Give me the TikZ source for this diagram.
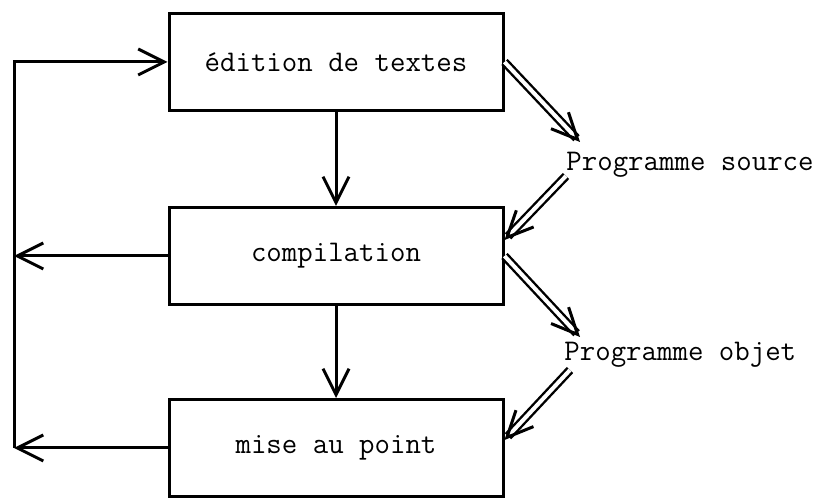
\documentclass[tikz,border=0pt]{standalone}
\usetikzlibrary{arrows.meta}

\begin{document}
\begin{tikzpicture}[x=0.5pt,y=0.5pt,
    police/.style={font=\fontsize{15}{18}\selectfont\ttfamily},
    boite/.style={draw,line width=1.5pt,police,minimum width=167pt,minimum height=48.5pt,inner sep=0pt},
    texte/.style={police,anchor=base west,inner sep=0pt},
    fleche/.style={line width=1.5pt,-{Straight Barb[length=13pt,width=13pt,line width=1.5pt]}},
    dfleche/.style={double,line width=1.2pt,double distance=2pt,-{Straight Barb[length=13pt,width=12pt,line width=1.5pt]}}]
  \useasboundingbox (0,0) rectangle (824,501);
  % les boîtes
  \node[boite] (edit) at (336,439) {édition de textes};
  \node[boite] (compil) at (336,245) {compilation};
  \node[boite] (mise) at (336,53) {mise au point};
  % les programmes
  \node[texte] (src) at (566,330) {Programme source};
  \node[texte] (obj) at (564,140) {Programme objet};
  \coordinate (retour) at (14,0);
  \coordinate (s1) at (580,359);
  \coordinate (s2) at (566,325);
  \coordinate (o1) at (580,164);
  \coordinate (o2) at (570,131);
  % flèches simples
  \draw[fleche] (edit) -- (compil);
  \draw[fleche] (compil) -- (mise);
  \draw[fleche] (compil.west) -- (compil.west -| retour);
  \draw[fleche] (mise.west) -- (mise.west -| retour);
  \draw[fleche] (mise.west -| retour) |- (edit.west);
  % flèches doubles
  \draw[dfleche] (edit.east) -- (s1);
  \draw[dfleche] (s2) -- ([yshift=8pt]compil.east);
  \draw[dfleche] (compil.east) -- (o1);
  \draw[dfleche] (o2) -- ([yshift=4pt]mise.east);
\end{tikzpicture}
\end{document}
